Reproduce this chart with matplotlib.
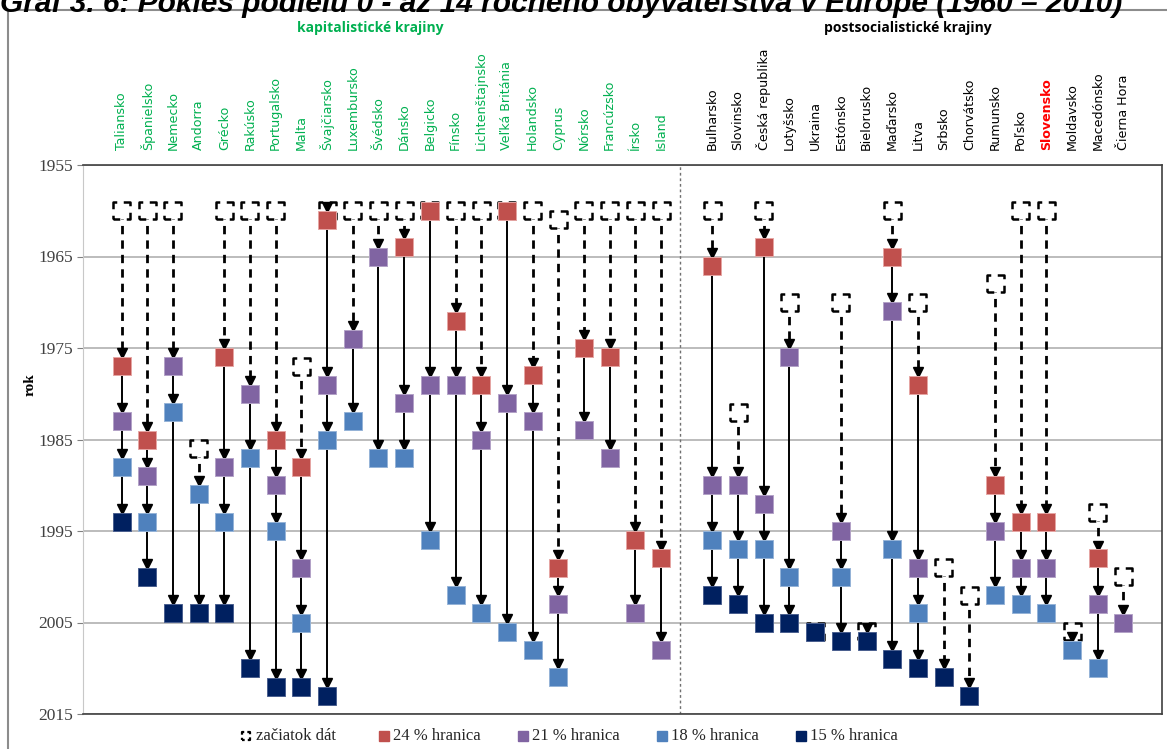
import numpy as np
import matplotlib.pyplot as plt
from matplotlib.transforms import ScaledTranslation
from matplotlib.patches import Rectangle

nan = np.nan

# kapitalisticke krajiny (22) + postsocialisticke krajiny (17)
krajiny_kap = ["Taliansko", "Španielsko", "Nemecko", "Andorra", "Grécko", "Rakúsko",
               "Portugalsko", "Malta", "Švajčiarsko", "Luxembursko", "Švédsko", "Dánsko",
               "Belgicko", "Fínsko", "Lichtenštajnsko", "Veľká Británia", "Holandsko",
               "Cyprus", "Nórsko", "Francúzsko", "Írsko", "Island"]
krajiny_post = ["Bulharsko", "Slovinsko", "Česká republika", "Lotyšsko", "Ukraina",
                "Estónsko", "Bielorusko", "Maďarsko", "Litva", "Srbsko", "Chorvátsko",
                "Rumunsko", "Poľsko", "Slovensko", "Moldavsko", "Macedónsko", "Čierna Hora"]

# rok zaciatku dat
zaciatok = [1960, 1960, 1960, 1986, 1960, 1960, 1960, 1977, 1960, 1960, 1960, 1960,
            1960, 1960, 1960, 1960, 1960, 1961, 1960, 1960, 1960, 1960,
            1960, 1982, 1960, 1970, 2006, 1970, 2006, 1960, 1970, 1999, 2002,
            1968, 1960, 1960, 2006, 1993, 2000]
# rok poklesu pod danu hranicu
hranica_24 = [1977, 1985, nan, nan, 1976, nan, 1985, 1988, 1961, nan, nan, 1964,
              1960, 1972, 1979, 1960, 1978, 1999, 1975, 1976, 1996, 1998,
              1966, nan, 1964, nan, nan, nan, nan, 1965, 1979, nan, nan,
              1990, 1994, 1994, nan, 1998, nan]
hranica_21 = [1983, 1989, 1977, nan, 1988, 1980, 1990, 1999, 1979, 1974, 1965, 1981,
              1979, 1979, 1985, 1981, 1983, 2003, 1984, 1987, 2004, 2008,
              1990, 1990, 1992, 1976, nan, 1995, nan, 1971, 1999, nan, nan,
              1995, 1999, 1999, nan, 2003, 2005]
hranica_18 = [1988, 1994, 1982, 1991, 1994, 1987, 1995, 2005, 1985, 1983, 1987, 1987,
              1996, 2002, 2004, 2006, 2008, 2011, nan, nan, nan, nan,
              1996, 1997, 1997, 2000, nan, 2000, nan, 1997, 2004, nan, nan,
              2002, 2003, 2004, 2008, 2010, nan]
hranica_15 = [1994, 2000, 2004, 2004, 2004, 2010, 2012, 2012, 2013, nan, nan, nan,
              nan, nan, nan, nan, nan, nan, nan, nan, nan, nan,
              2002, 2003, 2005, 2005, 2006, 2007, 2007, 2009, 2010, 2011, 2013,
              nan, nan, nan, nan, nan, nan]

serie = [hranica_24, hranica_21, hranica_18, hranica_15]
farby = ["#C0504D", "#8064A2", "#4F81BD", "#002060"]
okraje = ["#E6A5A3", "#B3A2C7", "#95B3D7", "#4A5F8F"]
nazvy = ["24 % hranica", "21 % hranica", "18 % hranica", "15 % hranica"]

pozicie = list(range(22)) + list(range(23, 40))
krajiny = krajiny_kap + krajiny_post

fig = plt.figure(figsize=(11.67, 7.49), dpi=100)
ax = fig.add_axes([83 / 1167, 1 - 714 / 749, (1162 - 83) / 1167, (714 - 165) / 749])

# sipky - trojuholnik nad cielovym stvorcom
posun = ax.transData + ScaledTranslation(0, 9.3 / 72, fig.dpi_scale_trans)

for i, x in enumerate(pozicie):
    hodnoty = [s[i] for s in serie if not np.isnan(s[i])]
    prvy = hodnoty[0]
    if prvy - zaciatok[i] > 0.5:
        ax.plot([x, x], [zaciatok[i], prvy], color="k", lw=2, ls=(0, (3, 2.2)), zorder=2)
        ax.plot(x, prvy, marker="v", ms=6.5, color="k", transform=posun, zorder=4.5)
    for a, b in zip(hodnoty[:-1], hodnoty[1:]):
        ax.plot([x, x], [a, b], color="k", lw=1.4, zorder=2)
        ax.plot(x, b, marker="v", ms=6.5, color="k", transform=posun, zorder=4.5)

# zaciatok dat
ax.scatter(pozicie, zaciatok, marker="s", s=150, facecolors="white", edgecolors="k",
           linewidths=1.8, linestyles=(1.5, (4.2, 2.6)), zorder=4)

for s, f, o in zip(serie, farby, okraje):
    ax.plot(pozicie, s, ls="none", marker="s", ms=12.5, mfc=f, mec=o, mew=0.7, zorder=5)

ax.set_xlim(-1.5, 40.5)
ax.set_ylim(2015, 1955)
ax.set_yticks(range(1955, 2016, 10))
ax.set_xticks([])
ax.yaxis.grid(True, color="#B0B0B0", lw=1.2)
ax.set_axisbelow(True)
ax.tick_params(axis="y", length=4, color="#808080", labelsize=12.5, labelcolor="#404040", pad=3)
for t in ax.get_yticklabels():
    t.set_fontfamily("Liberation Serif")
for k in ["top", "right", "bottom"]:
    ax.spines[k].set_color("#404040")
    ax.spines[k].set_linewidth(1.2)
ax.spines["left"].set_color("#C8C8C8")
ax.axvline(21.75, color="#707070", lw=1, ls=(0, (2, 2)), zorder=1)

fig.text(30 / 1167, 1 - 385 / 749, "rok", rotation=90, ha="center", va="center",
         fontsize=11, fontweight="bold", family="Liberation Serif")

# nazvy krajin
for x, n in zip(pozicie, krajiny):
    farba = "#00B050" if x < 22 else "black"
    vaha = "normal"
    if n == "Slovensko":
        farba, vaha = "#FF0000", "bold"
    ax.text(x, 1.027, n, transform=ax.get_xaxis_transform(), rotation=90, ha="center",
            va="bottom", fontsize=9.1, color=farba, fontweight=vaha, family="DejaVu Sans")

fig.text(370 / 1167, 1 - 28 / 749, "kapitalistické krajiny", ha="center", va="center",
         fontsize=10, fontweight="bold", color="#00B050", family="Open Sans")
fig.text(908 / 1167, 1 - 28 / 749, "postsocialistické krajiny", ha="center", va="center",
         fontsize=10, fontweight="bold", color="black", family="Open Sans")

fig.text(0.0, 1 - 12 / 749, "Graf 3. 6: Pokles podielu 0 - až 14 ročného obyvateľstva v Európe (1960 – 2010)",
         ha="left", va="baseline", fontsize=21.5, fontweight="bold", style="italic",
         family="Liberation Sans")

# ramcek grafu
fig.patches.append(Rectangle((8 / 1167, -0.02), 1.05, 1 - 10 / 749 + 0.02, transform=fig.transFigure,
                             fill=False, edgecolor="#8C8C8C", lw=1.5))

# legenda
ly = 1 - 736 / 749
ax.scatter([246 / 1167], [ly], marker="s", s=40, facecolors="white", edgecolors="k",
           linewidths=1.6, linestyles=(1, (2.2, 1.4)), transform=fig.transFigure, clip_on=False)
fig.text(256 / 1167, ly, "začiatok dát", ha="left", va="center", fontsize=12,
         family="Liberation Serif", color="#262626")
for j, (f, n) in enumerate(zip(farby, nazvy)):
    lx = (384 + j * 139) / 1167
    fig.add_artist(plt.Line2D([lx], [ly], marker="s", ms=7.5, mfc=f, mec=f, ls="none"))
    fig.text(lx + 9 / 1167, ly, n, ha="left", va="center", fontsize=12,
             family="Liberation Serif", color="#262626")

fig.savefig("out.png", dpi=100)
